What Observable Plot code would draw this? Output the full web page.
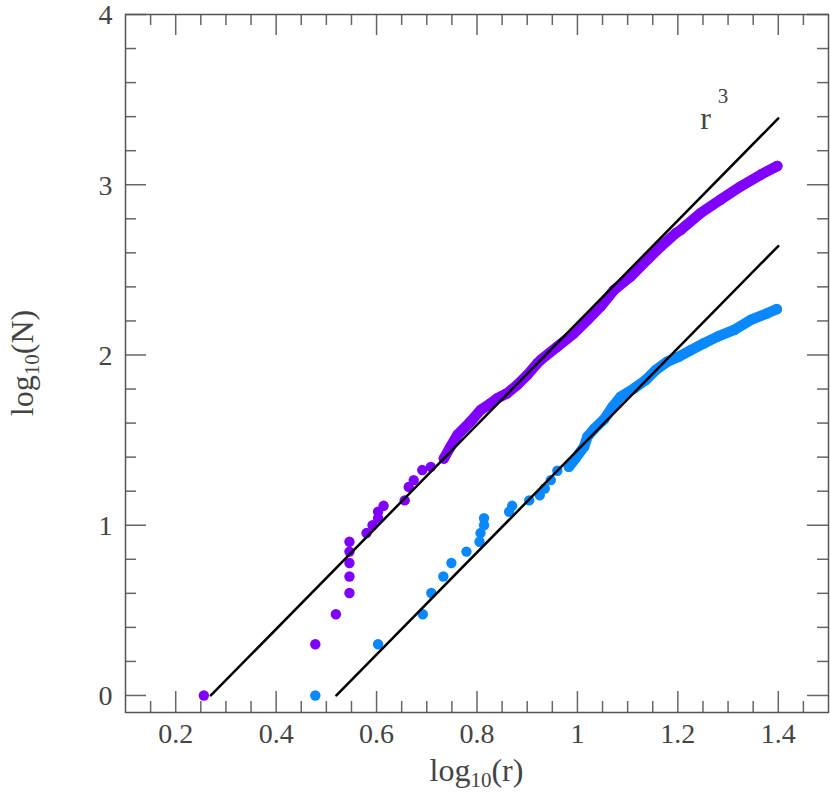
<!DOCTYPE html>
<html><head><meta charset="utf-8">
<script src="https://cdn.jsdelivr.net/npm/d3@7"></script>
<script src="https://cdn.jsdelivr.net/npm/@observablehq/plot@0.6"></script>
<style>body{margin:0;background:#fff} #chart svg{display:block}</style>
</head><body><div id="chart"></div>
<script>
// ---- data ----
const purpleX = [0.256,0.478,0.519,0.546,0.546,0.546,0.546,0.546,0.580,0.592,0.603,0.603,0.614,0.656,
  0.664,0.674,0.691,0.708,0.734,0.747,0.761,0.787,0.807,0.827,0.840,0.860,0.880,0.900,0.920,0.927,
  0.960,0.993,1.020,1.046,1.073,1.106,1.139,1.166,1.196,1.206,1.245,1.285,1.325,1.365,1.398];
const purpleY = [0,0.301,0.477,0.602,0.699,0.778,0.845,0.903,0.954,1.0,1.041,1.079,1.114,1.146,
  1.225,1.265,1.324,1.343,1.392,1.46,1.53,1.608,1.676,1.716,1.745,1.775,1.824,1.882,1.951,1.971,
  2.049,2.127,2.206,2.284,2.382,2.461,2.559,2.637,2.716,2.735,2.833,2.912,2.990,3.059,3.110];
const blueX = [0.478,0.603,0.692,0.709,0.733,0.749,0.779,0.805,0.807,0.814,0.814,0.864,0.870,0.904,
  0.925,0.935,0.947,0.960,0.983,0.996,1.013,1.020,1.033,1.053,1.070,1.086,1.113,1.136,1.156,1.179,
  1.202,1.226,1.252,1.279,1.312,1.345,1.378,1.397];
const blueY = [0,0.301,0.477,0.602,0.699,0.778,0.845,0.903,0.954,1.0,1.041,1.079,1.114,1.146,
  1.176,1.216,1.265,1.32,1.343,1.392,1.46,1.52,1.565,1.622,1.696,1.755,1.804,1.853,1.912,1.961,
  1.990,2.029,2.069,2.108,2.147,2.206,2.245,2.269];
const fit1X = [0.27, 1.40], fit1Y = [0, 3.39];
const fit2X = [0.52, 1.40], fit2Y = [0, 2.64];
const xMajor = [0.2, 0.4, 0.6, 0.8, 1, 1.2, 1.4];
const xMinor = [0.15,0.25,0.3,0.35,0.45,0.5,0.55,0.65,0.7,0.75,0.85,0.9,0.95,1.05,1.1,1.15,1.25,1.3,1.35,1.45];
const yMajor = [0, 1, 2, 3, 4];
const yMinor = [0.2,0.4,0.6,0.8,1.2,1.4,1.6,1.8,2.2,2.4,2.6,2.8,3.2,3.4,3.6,3.8];
const bandStartPurple = 1.39, bandStartBlue = 1.34;

// ---- layout ----
const W = 830, H = 796, mL = 125, mR = 2, mT = 14, mB = 84;
const iW = W - mL - mR, iH = H - mT - mB;
const P = "#8000ff", B = "#0a88ff";
const FONT = "Liberation Serif";
const TC = "#444";

const purple = purpleX.map((x, i) => ({x, y: purpleY[i]}));
const blue = blueX.map((x, i) => ({x, y: blueY[i]}));
const fit1 = fit1X.map((x, i) => ({x, y: fit1Y[i]}));
const fit2 = fit2X.map((x, i) => ({x, y: fit2Y[i]}));
const tk = {stroke: "#666", strokeWidth: 1.5};

const plot = Plot.plot({
  width: W, height: H, marginLeft: mL, marginRight: mR, marginTop: mT, marginBottom: mB,
  x: {domain: [0.1, 1.5]},
  y: {domain: [-0.1, 4]},
  style: {fontFamily: FONT, fontSize: "28px", color: TC, background: "#fff", overflow: "visible"},
  marks: [
    Plot.tickX(xMajor, {x: d => d, insetTop: iH - 21, ...tk}),
    Plot.tickX(xMinor, {x: d => d, insetTop: iH - 11, ...tk}),
    Plot.tickX(xMajor, {x: d => d, insetBottom: iH - 21, ...tk}),
    Plot.tickX(xMinor, {x: d => d, insetBottom: iH - 11, ...tk}),
    Plot.tickY(yMajor, {y: d => d, insetRight: iW - 21, ...tk}),
    Plot.tickY(yMinor, {y: d => d, insetRight: iW - 11, ...tk}),
    Plot.tickY(yMajor, {y: d => d, insetLeft: iW - 21, ...tk}),
    Plot.tickY(yMinor, {y: d => d, insetLeft: iW - 11, ...tk}),
    Plot.frame({stroke: "#555", strokeWidth: 1.5}),
    Plot.axisX({ticks: xMajor, tickSize: 0, tickPadding: 11, tickFormat: d => String(d), label: null, fill: TC}),
    Plot.axisY({ticks: yMajor, tickSize: 0, tickPadding: 13, tickFormat: d => String(d), label: null, fill: TC, dy: 1}),
    Plot.line(purple.filter(d => d.y >= bandStartPurple), {x: "x", y: "y", stroke: P, strokeWidth: 10.5, strokeLinecap: "round", strokeLinejoin: "round"}),
    Plot.dot(purple, {x: "x", y: "y", r: 5.2, fill: P}),
    Plot.line(blue.filter(d => d.y >= bandStartBlue), {x: "x", y: "y", stroke: B, strokeWidth: 10.5, strokeLinecap: "round", strokeLinejoin: "round"}),
    Plot.dot(blue, {x: "x", y: "y", r: 5.2, fill: B}),
    Plot.line(fit1, {x: "x", y: "y", stroke: "#000", strokeWidth: 2.5}),
    Plot.line(fit2, {x: "x", y: "y", stroke: "#000", strokeWidth: 2.5}),
    Plot.text([{x: 1.255, y: 3.39, t: "r"}], {x: "x", y: "y", text: "t", fontSize: 32, fill: TC}),
    Plot.text([{x: 1.29, y: 3.52, t: "3"}], {x: "x", y: "y", text: "t", fontSize: 21, fill: TC})
  ]
});

const svg = d3.select(plot);
const xl = svg.append("text").attr("x", mL + iW / 2).attr("y", 781)
  .attr("text-anchor", "middle").attr("font-family", FONT).attr("font-size", 32).attr("fill", TC);
xl.append("tspan").text("log");
xl.append("tspan").attr("font-size", 21).attr("dy", 6).text("10");
xl.append("tspan").attr("dy", -6).text("(r)");
const yl = svg.append("text").attr("transform", `translate(33,${mT + iH / 2}) rotate(-90)`)
  .attr("text-anchor", "middle").attr("font-family", FONT).attr("font-size", 32).attr("fill", TC);
yl.append("tspan").text("log");
yl.append("tspan").attr("font-size", 21).attr("dy", 6).text("10");
yl.append("tspan").attr("dy", -6).text("(N)");

document.getElementById("chart").appendChild(plot);
</script>
</body></html>
